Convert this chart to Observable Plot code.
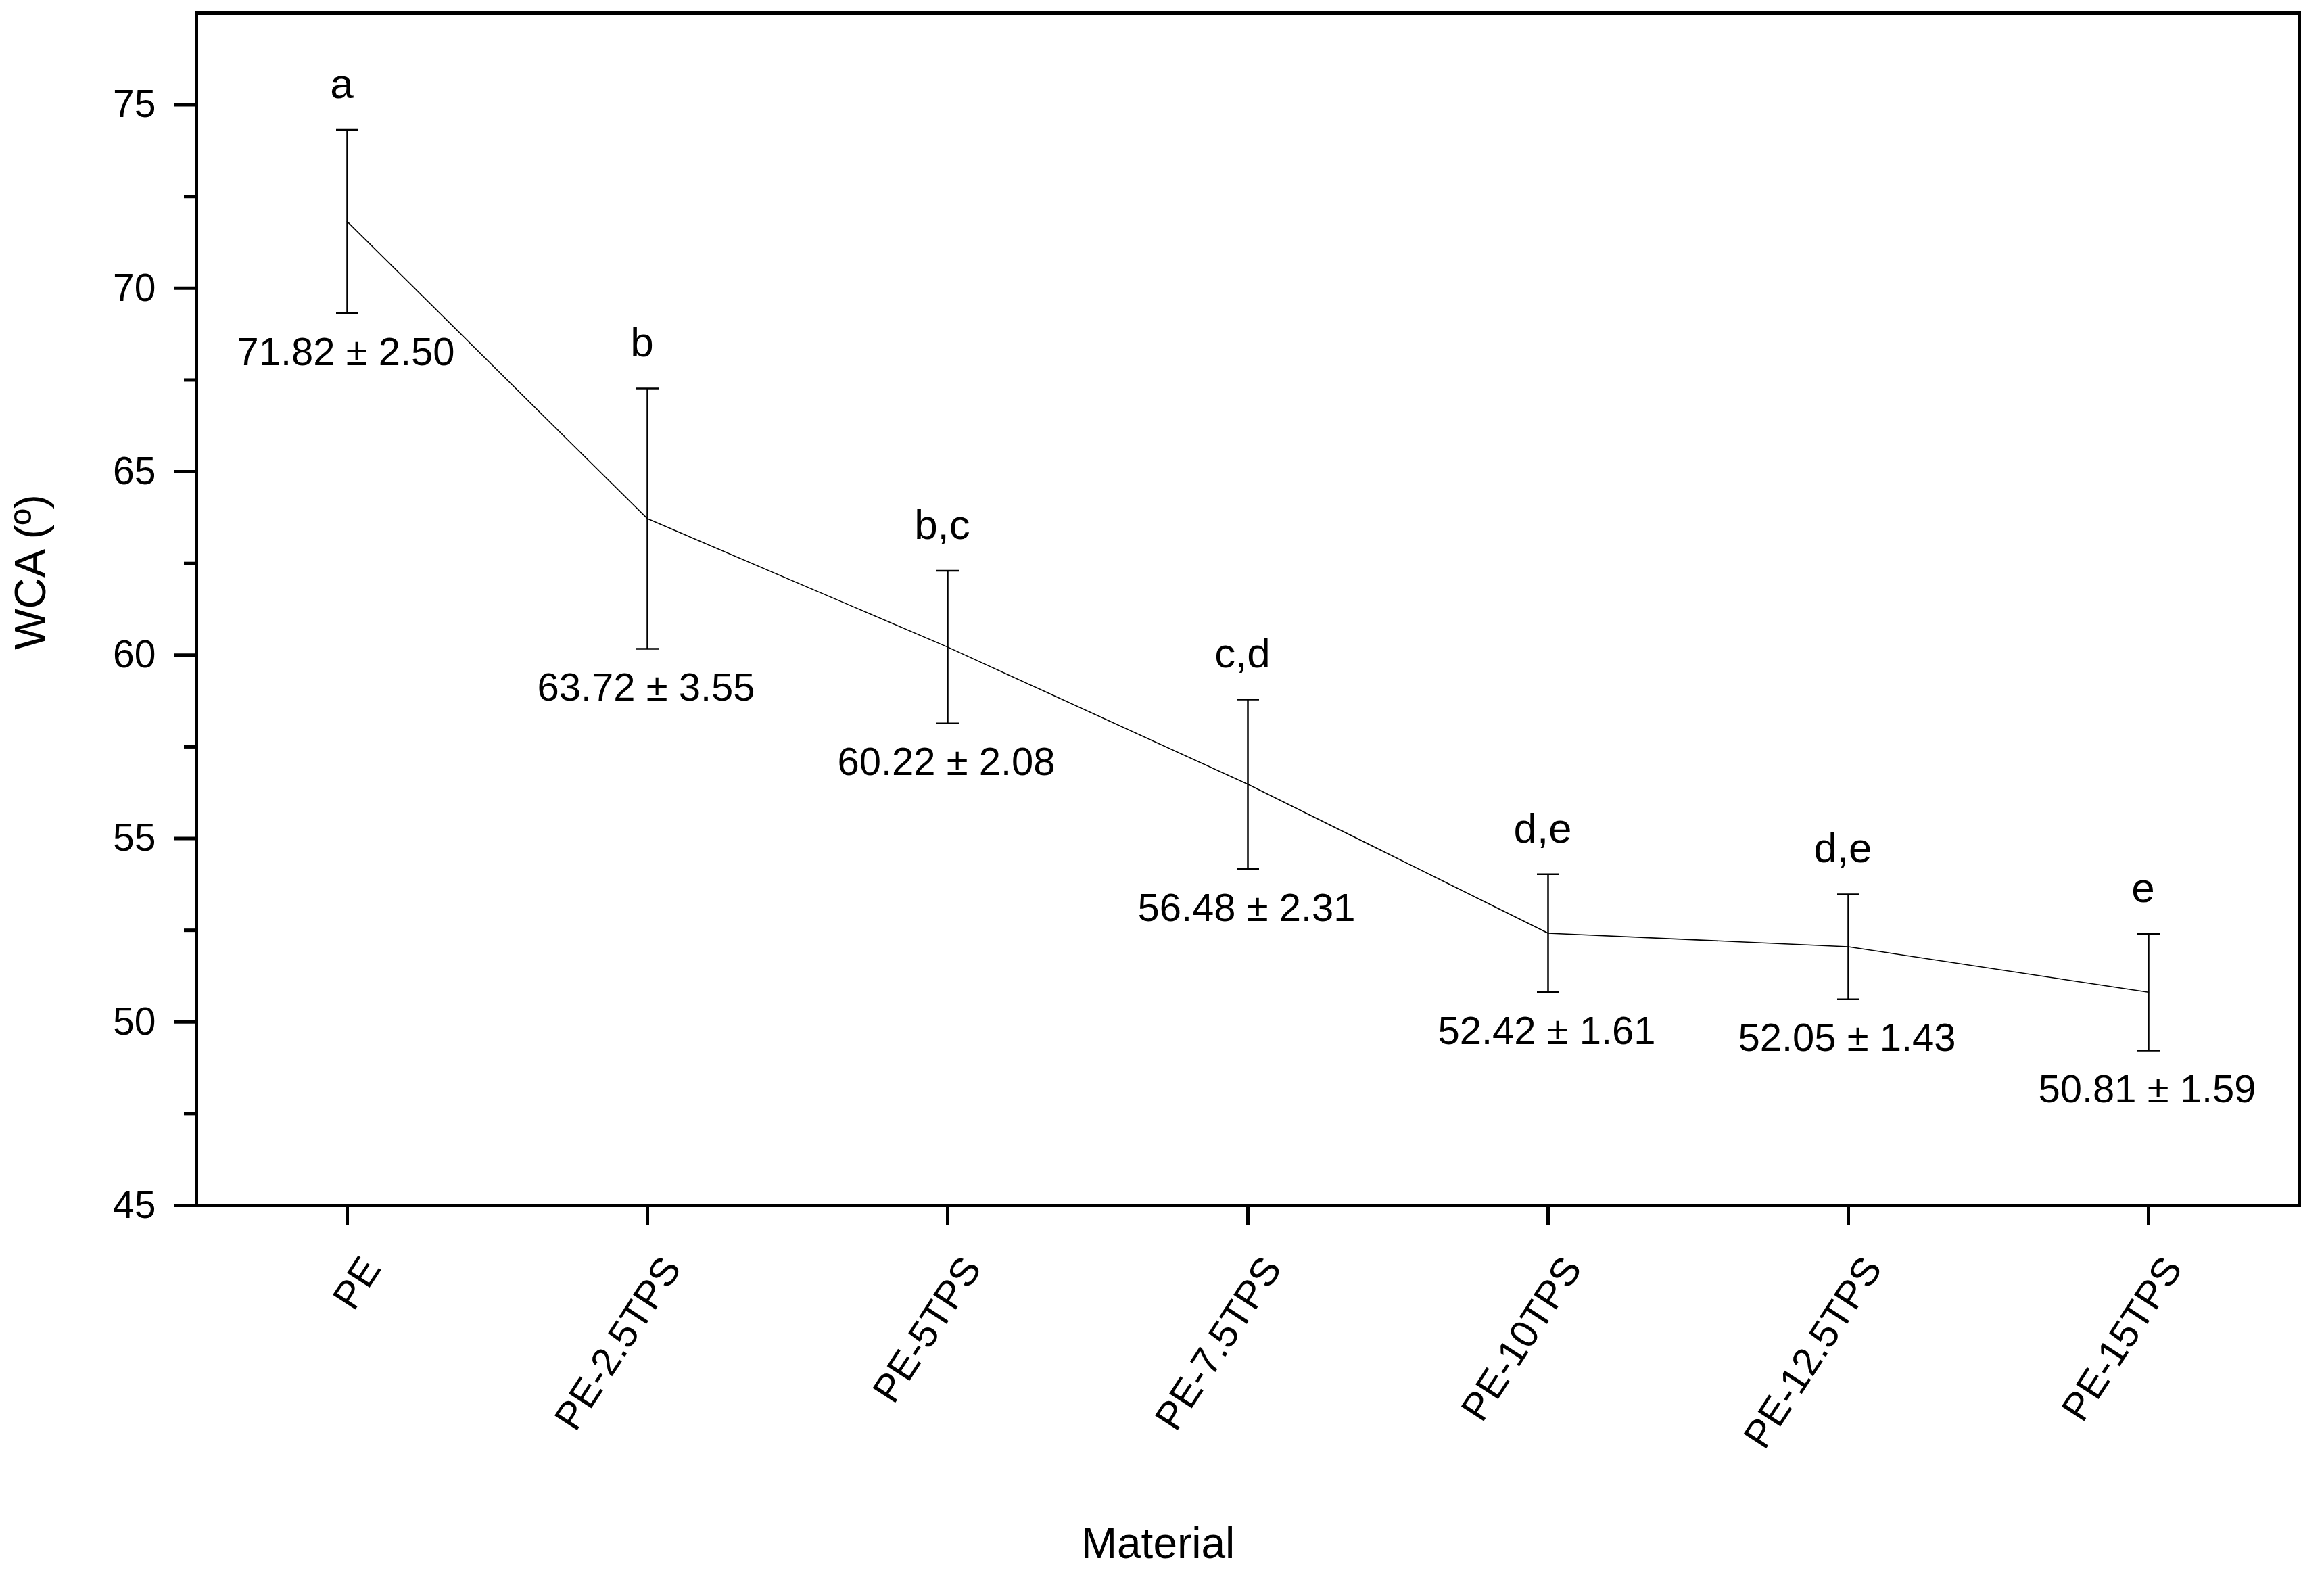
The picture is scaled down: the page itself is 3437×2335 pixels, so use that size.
<!DOCTYPE html>
<html>
<head>
<meta charset="utf-8">
<script src="https://cdn.jsdelivr.net/npm/d3@7"></script>
<script src="https://cdn.jsdelivr.net/npm/@observablehq/plot@0.6"></script>
<style>
  html, body { margin: 0; padding: 0; background: #fff; }
  svg { font-family: "Liberation Sans", Arial, sans-serif; }
</style>
</head>
<body>
<div id="chart"></div>
<script>
const materials = ["PE", "PE-2.5TPS", "PE-5TPS", "PE-7.5TPS", "PE-10TPS", "PE-12.5TPS", "PE-15TPS"];
const wca = [71.82, 63.72, 60.22, 56.48, 52.42, 52.05, 50.81];
const sd = [2.50, 3.55, 2.08, 2.31, 1.61, 1.43, 1.59];
const groups = ["a", "b", "b,c", "c,d", "d,e", "d,e", "e"];
const yMajorTicks = [45, 50, 55, 60, 65, 70, 75];
const yMinorTicks = [47.5, 52.5, 57.5, 62.5, 67.5, 72.5];
const xTitle = "Material";
const yTitle = "WCA (º)";

const data = materials.map((m, i) => ({
  material: m,
  mean: wca[i],
  lo: wca[i] - sd[i],
  hi: wca[i] + sd[i],
  group: groups[i],
  label: `${wca[i].toFixed(2)} ± ${sd[i].toFixed(2)}`
}));

// horizontal cap symbol for error bars
const capSymbol = {
  draw(context) {
    context.moveTo(-16.5, 0);
    context.lineTo(16.5, 0);
  }
};

const chart = Plot.plot({
  width: 3437,
  height: 2335,
  marginLeft: 290,
  marginRight: 37,
  marginTop: 19,
  marginBottom: 553,
  style: { fontFamily: "'Liberation Sans', Arial, sans-serif", fontSize: "56px", color: "#000", background: "#fff" },
  x: { type: "point", domain: materials, padding: 0.5, axis: null },
  y: { domain: [45, 77.5], axis: null },
  marks: [
    // error bars
    Plot.ruleX(data, { x: "material", y1: "lo", y2: "hi", stroke: "#000", strokeWidth: 2.5 }),
    Plot.dot(data, { x: "material", y: "hi", symbol: capSymbol, fill: "none", stroke: "#000", strokeWidth: 2.5 }),
    Plot.dot(data, { x: "material", y: "lo", symbol: capSymbol, fill: "none", stroke: "#000", strokeWidth: 2.5 }),
    // mean line
    Plot.line(data, { x: "material", y: "mean", stroke: "#000", strokeWidth: 1.6 }),
    // significance letters
    Plot.text(data, { x: "material", y: "hi", text: "group", dy: -67, dx: -8, fontSize: 62, lineAnchor: "middle", fill: "#000" }),
    // value labels
    Plot.text(data, { x: "material", y: "lo", text: "label", dy: 58, dx: -2, fontSize: 58, lineAnchor: "middle", fill: "#000" }),
    // y axis
    Plot.axisY({ ticks: yMajorTicks, tickSize: 33, tickPadding: 27, strokeWidth: 5, fontSize: 57, label: null, tickFormat: d => String(d) }),
    Plot.axisY({ ticks: yMinorTicks, tickSize: 18, strokeWidth: 5, text: null, label: null }),
    // x axis ticks
    Plot.axisX({ tickSize: 30, strokeWidth: 5, text: null, label: null }),
    // x tick labels (rotated)
    Plot.text(materials, { x: d => d, text: d => d, frameAnchor: "bottom", rotate: -57, textAnchor: "end", lineAnchor: "middle", dx: 36, dy: 83, fontSize: 58, fill: "#000" }),
    // frame
    Plot.frame({ stroke: "#000", strokeWidth: 5 }),
    // axis titles
    Plot.text([yTitle], { text: d => d, frameAnchor: "left", rotate: -90, textAnchor: "middle", lineAnchor: "middle", dx: -244, dy: -55, fontSize: 64, fill: "#000" }),
    Plot.text([xTitle], { text: d => d, frameAnchor: "bottom", textAnchor: "middle", lineAnchor: "middle", dx: -133, dy: 501, fontSize: 64, fill: "#000" })
  ]
});

document.getElementById("chart").appendChild(chart);
</script>
</body>
</html>
